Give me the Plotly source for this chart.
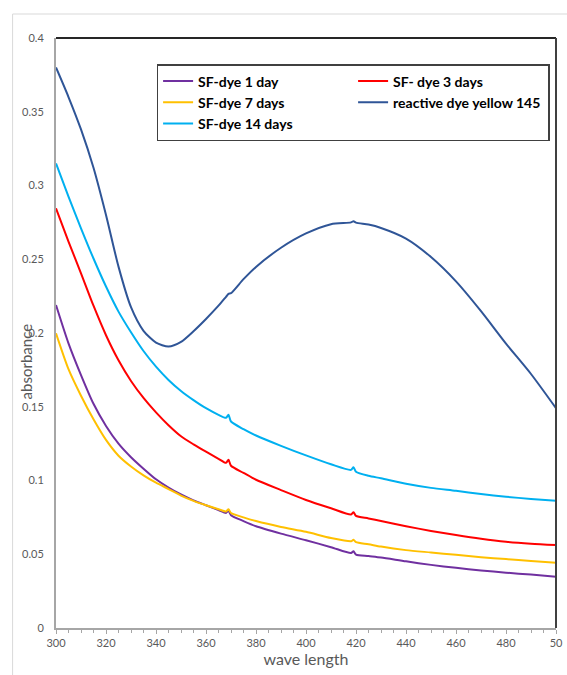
import plotly.graph_objects as go

wavelength = [300, 305, 310, 315, 320, 325, 330, 335, 340, 345, 350, 355, 360, 365,
              368, 369, 370, 375, 380, 390, 400, 410, 418, 419, 420, 425, 430, 440,
              450, 460, 470, 480, 490, 500]

sf_1day = [0.219, 0.193, 0.1715, 0.152, 0.137, 0.125, 0.1158, 0.108, 0.1008, 0.0952,
           0.0905, 0.0865, 0.0832, 0.080, 0.078, 0.0795, 0.0765, 0.0725, 0.069, 0.064,
           0.0595, 0.0548, 0.0508, 0.052, 0.0498, 0.0488, 0.0478, 0.0452, 0.0428,
           0.0408, 0.039, 0.0375, 0.0362, 0.0348]

sf_3days = [0.2845, 0.262, 0.2405, 0.2185, 0.1985, 0.1815, 0.1675, 0.156, 0.1462, 0.1375,
            0.130, 0.1245, 0.1195, 0.1147, 0.112, 0.114, 0.110, 0.1052, 0.1005, 0.0935,
            0.0868, 0.0812, 0.077, 0.0785, 0.076, 0.0743, 0.0725, 0.069, 0.0658,
            0.063, 0.0605, 0.0585, 0.0572, 0.0563]

sf_7days = [0.1998, 0.1755, 0.1575, 0.1415, 0.1275, 0.1168, 0.1095, 0.1035, 0.0985, 0.0942,
            0.0898, 0.0862, 0.0832, 0.0805, 0.079, 0.0805, 0.078, 0.075, 0.0725, 0.0685,
            0.0652, 0.061, 0.0588, 0.0598, 0.0582, 0.0568, 0.0552, 0.0528, 0.0512,
            0.0496, 0.048, 0.0467, 0.0455, 0.0443]

reactive_yellow_145 = [0.380, 0.360, 0.338, 0.312, 0.280, 0.245, 0.2175, 0.2015, 0.1935,
                       0.1908, 0.194, 0.2012, 0.2095, 0.2185, 0.2245, 0.2265, 0.227,
                       0.2365, 0.2448, 0.2578, 0.2675, 0.2738, 0.275, 0.2758, 0.2748,
                       0.2735, 0.2712, 0.264, 0.2515, 0.235, 0.2148, 0.1928, 0.1722, 0.149]

sf_14days = [0.315, 0.2925, 0.271, 0.2505, 0.2315, 0.2145, 0.2005, 0.1878, 0.1772, 0.1682,
             0.1607, 0.1545, 0.149, 0.1445, 0.1425, 0.1445, 0.140, 0.1348, 0.1305, 0.1235,
             0.117, 0.111, 0.1072, 0.109, 0.106, 0.1032, 0.1015, 0.0978, 0.095, 0.093,
             0.0908, 0.089, 0.0875, 0.0863]

series = [
    ("SF-dye 1 day", sf_1day, "#7030A0"),
    ("SF- dye 3 days", sf_3days, "#FF0000"),
    ("SF-dye 7 days", sf_7days, "#FFC000"),
    ("reactive dye yellow 145", reactive_yellow_145, "#2F5597"),
    ("SF-dye 14 days", sf_14days, "#00B0F0"),
]

x_ticks = [300, 320, 340, 360, 380, 400, 420, 440, 460, 480, 500]
x_tick_text = ["300", "320", "340", "360", "380", "400", "420", "440", "460", "480", "50"]
y_ticks = [0, 0.05, 0.1, 0.15, 0.2, 0.25, 0.3, 0.35, 0.4]
y_tick_text = ["0", "0.05", "0.1", "0.15", "0.2", "0.25", "0.3", "0.35", "0.4"]

fig = go.Figure()
for name, vals, color in series:
    fig.add_trace(go.Scatter(x=wavelength, y=vals, mode="lines", name=name,
                             line=dict(color=color, width=2, shape="spline", smoothing=0.7)))

W, H = 567, 675
L, R, T, B = 56, 4, 38, 47
pw, ph = W - L - R, H - T - B

def px(xp):
    return (xp - L) / pw

def py(yp):
    return (H - B - yp) / ph

fig.update_layout(
    width=W, height=H,
    margin=dict(l=L, r=R, t=T, b=B),
    paper_bgcolor="white", plot_bgcolor="white",
    font=dict(family="Lato, Noto Sans, sans-serif", color="#595959"),
    showlegend=True,
    legend=dict(
        orientation="h", x=px(158), y=py(64), xanchor="left", yanchor="top",
        entrywidth=150, bordercolor="#404040", borderwidth=1.5, bgcolor="white",
        font=dict(family="Lato, sans-serif", size=14, color="#000000", weight="bold"),
        traceorder="normal",
    ),
    xaxis=dict(
        range=[300, 500], tickvals=x_ticks, ticktext=x_tick_text,
        showgrid=False, zeroline=False, showline=True, linecolor="#A6A6A6", linewidth=2,
        ticks="outside", ticklen=4, tickcolor="#A6A6A6", ticklabeloverflow="allow",
        minor=dict(dtick=5, ticks="outside", ticklen=3, tickcolor="#A6A6A6"),
        tickfont=dict(size=11, color="#595959"),
        title=dict(text="wave length", font=dict(size=16, color="#595959"), standoff=0),
    ),
    yaxis=dict(
        range=[0, 0.4], tickvals=y_ticks, ticktext=y_tick_text,
        showgrid=False, zeroline=False, showline=True, linecolor="#A6A6A6", linewidth=2,
        ticks="", ticklabelstandoff=8,
        tickfont=dict(size=11, color="#595959"),
    ),
    shapes=[
        dict(type="line", xref="paper", yref="paper", x0=0, x1=1, y0=1, y1=1,
             line=dict(color="#262626", width=2)),
        dict(type="line", xref="paper", yref="paper", x0=1, x1=1, y0=0, y1=1,
             line=dict(color="#404040", width=2)),
        dict(type="rect", xref="paper", yref="paper", x0=px(12), x1=px(575),
             y0=py(690), y1=py(14), line=dict(color="#D9D9D9", width=1), layer="below"),
    ],
    annotations=[
        dict(text="absorbance", xref="paper", yref="paper", x=px(26), y=py(361),
             textangle=-90, showarrow=False, font=dict(size=15, color="#595959"),
             xanchor="center", yanchor="middle"),
    ],
)

fig.write_html("out.html")
